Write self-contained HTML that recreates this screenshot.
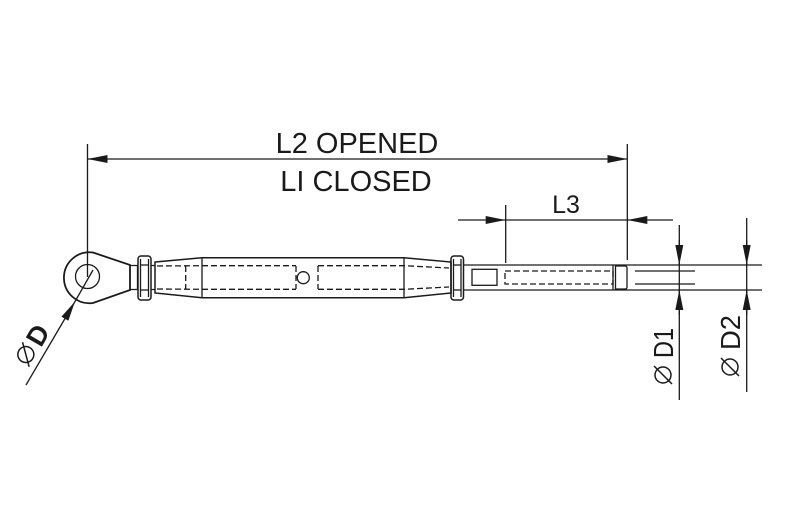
<!DOCTYPE html>
<html><head><meta charset="utf-8"><style>
html,body{margin:0;padding:0;background:#fff;}
svg{display:block;}
text{font-family:"Liberation Sans",sans-serif;fill:#1a1a1a;}
</style></head><body>
<svg width="800" height="520" viewBox="0 0 800 520" xmlns="http://www.w3.org/2000/svg">
<defs>
<marker id="ar" viewBox="0 0 20 8" refX="20" refY="4" markerWidth="20" markerHeight="8" markerUnits="userSpaceOnUse" orient="auto">
<path d="M0,0 L20,4 L0,8 Z" fill="#1a1a1a"/></marker>
</defs>
<g stroke="#1a1a1a" fill="none" stroke-width="1.3">
<line x1="87.5" y1="144" x2="87.5" y2="277"/>
<line x1="627.3" y1="144" x2="627.3" y2="260"/>
<line x1="100" y1="159" x2="87.5" y2="159" marker-end="url(#ar)"/>
<line x1="100" y1="159" x2="627.3" y2="159" marker-end="url(#ar)"/>
<line x1="505.7" y1="205" x2="505.7" y2="263"/>
<line x1="458" y1="220" x2="505.7" y2="220" marker-end="url(#ar)"/>
<line x1="505.7" y1="220" x2="627.3" y2="220"/>
<line x1="673" y1="220" x2="627.3" y2="220" marker-end="url(#ar)"/>
<line x1="679.3" y1="225" x2="679.3" y2="400"/>
<line x1="679.3" y1="240" x2="679.3" y2="265" marker-end="url(#ar)"/>
<line x1="679.3" y1="315" x2="679.3" y2="290" marker-end="url(#ar)"/>
<line x1="746.7" y1="218" x2="746.7" y2="392"/>
<line x1="746.7" y1="240" x2="746.7" y2="265" marker-end="url(#ar)"/>
<line x1="746.7" y1="315" x2="746.7" y2="290" marker-end="url(#ar)"/>
<line x1="26" y1="385" x2="75" y2="301.5" marker-end="url(#ar)"/>
<line x1="75" y1="301.5" x2="93" y2="270"/>

<path d="M93,252.5 L130,265 L130,290 L93,303 A25.5,25.5 0 1 1 93,252.5 Z" stroke-width="1.8"/>
<circle cx="87.5" cy="276.5" r="12"/>
<path d="M130,265.5 L137.5,265.5 L137.5,289.5 L130,289.5"/>
<rect x="138" y="256" width="13" height="44" rx="3" stroke-width="1.5"/>
<line x1="140.5" y1="265" x2="148.5" y2="265"/>
<line x1="140.5" y1="290" x2="148.5" y2="290"/>
<line x1="140.5" y1="259" x2="140.5" y2="297"/>
<line x1="148.5" y1="259" x2="148.5" y2="297"/>
<path d="M151,265.5 L155,265.5 M151,289.5 L155,289.5"/>
<path d="M155,262 L202,257.7 L404,257.7 L451,262 L451,293 L404,297.7 L202,297.7 L155,293 Z" stroke-width="1.5"/>
<line x1="202" y1="257.7" x2="202" y2="297.7"/>
<line x1="404" y1="257.7" x2="404" y2="297.7"/>
<circle cx="303.3" cy="277.7" r="6"/>
<g stroke-dasharray="6,3">
<path d="M157,266 L202,265.7 L296,265.7 M318,265.7 L404,265.7 L449,268"/>
<path d="M157,289 L202,289.3 L296,289.3 M318,289.3 L404,289.3 L449,287"/>
<line x1="185.7" y1="266" x2="185.7" y2="289"/>
<line x1="296" y1="266" x2="296" y2="289"/>
<line x1="318" y1="266" x2="318" y2="289"/>
</g>
<rect x="451" y="256" width="12.5" height="44" rx="3" stroke-width="1.5"/>
<line x1="453.5" y1="265" x2="461" y2="265"/>
<line x1="453.5" y1="290" x2="461" y2="290"/>
<line x1="453.5" y1="259" x2="453.5" y2="297"/>
<line x1="461" y1="259" x2="461" y2="297"/>
<line x1="463.5" y1="265" x2="762" y2="265"/>
<line x1="463.5" y1="290" x2="762" y2="290"/>
<rect x="472" y="269.3" width="25" height="16"/>
<rect x="505" y="271" width="108" height="13" stroke-dasharray="6,3"/>
<line x1="613" y1="265" x2="613" y2="290"/>
<line x1="615.5" y1="265" x2="615.5" y2="290"/>
<path d="M615.5,266 L625,266 Q627,266 627,268 L627,287 Q627,289 625,289 L615.5,289"/>
<line x1="635" y1="271" x2="695" y2="271"/>
<line x1="635" y1="284" x2="695" y2="284"/>
</g>
<text x="357" y="153" font-size="29" text-anchor="middle">L2 OPENED</text>
<text x="356" y="191" font-size="29" text-anchor="middle">LI CLOSED</text>
<text x="566" y="213" font-size="25" text-anchor="middle">L3</text>
<g transform="translate(673,360) rotate(-90)">
<text x="2" y="0" font-size="28" textLength="30" lengthAdjust="spacingAndGlyphs">D1</text>
<circle cx="-15" cy="-10" r="8" fill="none" stroke="#1a1a1a" stroke-width="1.5"/>
<line x1="-24" y1="-1" x2="-6" y2="-19" stroke="#1a1a1a" stroke-width="1.5"/>
</g>
<g transform="translate(740,352) rotate(-90)">
<text x="2" y="0" font-size="28" textLength="35" lengthAdjust="spacingAndGlyphs">D2</text>
<circle cx="-15" cy="-10" r="8" fill="none" stroke="#1a1a1a" stroke-width="1.5"/>
<line x1="-24" y1="-1" x2="-6" y2="-19" stroke="#1a1a1a" stroke-width="1.5"/>
</g>
<g transform="translate(40,350) rotate(-60)">
<text x="2" y="0" font-size="27" font-weight="bold">D</text>
<circle cx="-11" cy="-10" r="8" fill="none" stroke="#1a1a1a" stroke-width="1.5"/>
<line x1="-20" y1="-1" x2="-2" y2="-19" stroke="#1a1a1a" stroke-width="1.5"/>
</g>
</svg>
</body></html>
